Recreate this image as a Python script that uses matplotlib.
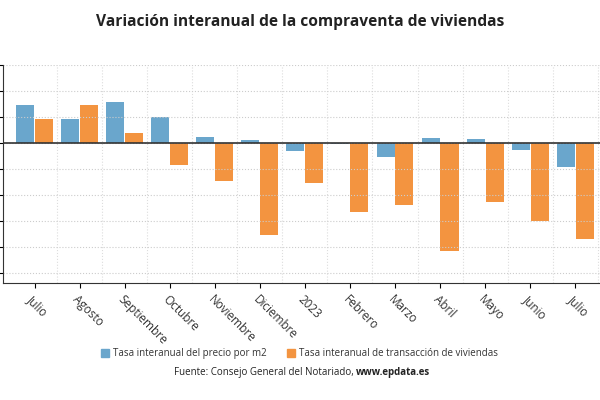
import matplotlib.pyplot as plt
import numpy as np

plt.rcParams['font.family'] = ['Open Sans', 'DejaVu Sans']

meses = ["Julio", "Agosto", "Septiembre", "Octubre", "Noviembre", "Diciembre", "2023",
         "Febrero", "Marzo", "Abril", "Mayo", "Junio", "Julio"]
precio = [1.46, 0.92, 1.58, 1.0, 0.23, 0.12, -0.3, -0.03, -0.54, 0.19, 0.15, -0.27, -0.92]
transaccion = [0.92, 1.46, 0.38, -0.85, -1.46, -3.54, -1.54, -2.65, -2.38, -4.15, -2.27, -3.0, -3.69]

fig = plt.figure(figsize=(6, 4), dpi=100)
ax = fig.add_axes([0.005, 0.2925, 0.995, 0.545])

x = np.arange(len(meses))
w = 0.4
ax.bar(x - w / 2 - 0.01, precio, w, color="#6aa6cc")
ax.bar(x + w / 2 + 0.01, transaccion, w, color="#f39440")
ax.axhline(0, color="#333333", lw=1.2)

ax.set_xlim(-0.7, len(meses) - 0.45)
ax.set_ylim(-5.4, 3.0)
ax.set_yticks(np.arange(-5, 4, 1))
ax.set_yticklabels([])
ax.set_xticks(x)
ax.set_xticklabels(meses, rotation=-45, ha="left", rotation_mode="anchor",
                   fontsize=8.5, color="#333333")
ax.set_xticks(x + 0.5, minor=True)
ax.grid(True, which="minor", axis="x", color="#dddddd", ls=":", lw=0.8)
ax.grid(True, which="major", axis="y", color="#cccccc", ls=":", lw=0.8)
ax.tick_params(axis="x", which="minor", length=0)
for s in ["top", "right"]:
    ax.spines[s].set_visible(False)
ax.spines["left"].set_color("#333333")
ax.spines["bottom"].set_color("#333333")

fig.text(0.5, 0.935, "Variación interanual de la compraventa de viviendas",
         ha="center", fontsize=11.2, fontweight="bold", color="#222222")

fig.patches.append(plt.Rectangle((0.168, 0.107), 0.013, 0.02, color="#6aa6cc",
                                 transform=fig.transFigure, figure=fig))
fig.text(0.188, 0.117, "Tasa interanual del precio por m2", fontsize=7, va="center", color="#333333")
fig.patches.append(plt.Rectangle((0.478, 0.107), 0.013, 0.02, color="#f39440",
                                 transform=fig.transFigure, figure=fig))
fig.text(0.498, 0.117, "Tasa interanual de transacción de viviendas", fontsize=7, va="center", color="#333333")

fig.text(0.593, 0.062, "Fuente: Consejo General del Notariado, ", ha="right", fontsize=7, color="#222222")
fig.text(0.593, 0.062, "www.epdata.es", ha="left", fontsize=7, fontweight="bold", color="#222222")

fig.savefig("out.png")
